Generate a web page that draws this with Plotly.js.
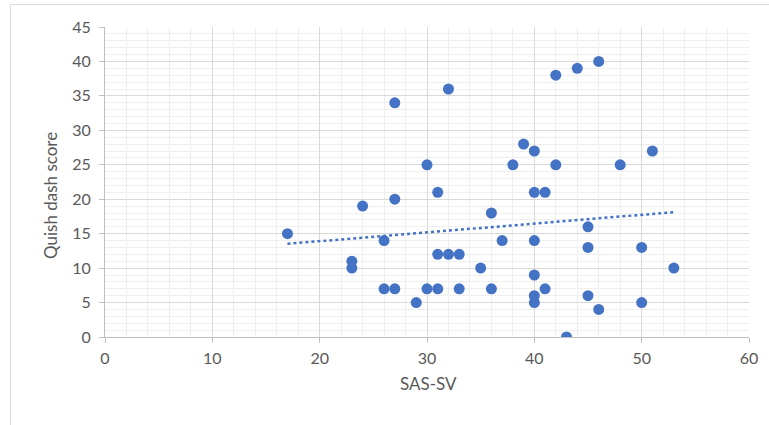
<!DOCTYPE html>
<html>
<head>
<meta charset="utf-8">
<script src="https://cdn.plot.ly/plotly-3.0.1.min.js"></script>
<style>html,body{margin:0;padding:0;background:#fff;}#chart{width:769px;height:425px;}</style>
</head>
<body>
<div id="chart"></div>
<script>
const sasSV = [17,23,23,24,26,26,27,27,27,29,30,30,31,31,31,32,32,33,33,35,36,36,37,38,39,40,40,40,40,40,40,41,41,42,42,43,44,45,45,45,46,46,48,50,50,51,53];
const quish = [15,11,10,19,14,7,34,20,7,5,25,7,21,12,7,36,12,12,7,10,18,7,14,25,28,27,21,14,9,6,5,21,7,38,25,0,39,16,13,6,40,4,25,13,5,27,10];
const xTicks = [0,10,20,30,40,50,60];
const yTicks = [0,5,10,15,20,25,30,35,40,45];
const xTitle = 'SAS-SV';
const yTitle = 'Quish dash score';

// least-squares trendline (as Excel's linear trendline)
const n = sasSV.length;
const mx = sasSV.reduce((a,b)=>a+b,0)/n;
const my = quish.reduce((a,b)=>a+b,0)/n;
let sxy=0, sxx=0;
for (let i=0;i<n;i++){ sxy += (sasSV[i]-mx)*(quish[i]-my); sxx += (sasSV[i]-mx)**2; }
const slope = sxy/sxx, icpt = my - slope*mx;
const xMin = Math.min(...sasSV), xMax = Math.max(...sasSV);
const trendX = [xMin, xMax];
const trendY = trendX.map(x => icpt + slope*x);

const blue = '#4472C4';
const grey = '#595959';
const font = 'Lato, "Open Sans", sans-serif';
const traces = [
  {x: trendX, y: trendY, mode: 'lines', line: {color: blue, width: 2.5, dash: 'dot'}, hoverinfo: 'skip'},
  {x: sasSV, y: quish, mode: 'markers', marker: {color: blue, size: 11}}
];
const layout = {
  width: 769, height: 425,
  margin: {l: 105, r: 20, t: 27, b: 88},
  paper_bgcolor: '#fff', plot_bgcolor: '#fff',
  showlegend: false,
  font: {family: font, color: grey, size: 16},
  xaxis: {
    range: [0, 60], tickvals: xTicks, ticktext: xTicks.map(String),
    showgrid: true, gridcolor: '#d9d9d9', gridwidth: 1,
    minor: {dtick: 2, showgrid: true, gridcolor: '#efefef', gridwidth: 1},
    showline: true, linecolor: '#bfbfbf', linewidth: 1,
    ticks: 'outside', ticklen: 5, tickcolor: '#bfbfbf',
    ticklabelstandoff: 2,
    zeroline: false,
    tickfont: {size: 16, color: grey}
  },
  yaxis: {
    range: [0, 45], tickvals: yTicks, ticktext: yTicks.map(String),
    showgrid: true, gridcolor: '#d9d9d9', gridwidth: 1,
    minor: {dtick: 1, showgrid: true, gridcolor: '#efefef', gridwidth: 1},
    showline: true, linecolor: '#bfbfbf', linewidth: 1,
    ticks: 'outside', ticklen: 5, tickcolor: '#bfbfbf',
    ticklabelstandoff: 5,
    zeroline: false,
    tickfont: {size: 16, color: grey}
  },
  annotations: [
    {text: xTitle, xref: 'paper', yref: 'paper', x: (428-105)/644, y: -(383-337)/310, xanchor: 'center', yanchor: 'middle', showarrow: false, font: {size: 17, color: grey}},
    {text: yTitle, xref: 'paper', yref: 'paper', x: (50-105)/644, y: (337-196)/310, xanchor: 'center', yanchor: 'middle', textangle: -90, showarrow: false, font: {size: 17, color: grey}}
  ],
  shapes: [
    {type: 'line', xref: 'paper', yref: 'paper', x0: -0.147, x1: -0.147, y0: 1.0726, y1: -0.29, line: {color: '#d9d9d9', width: 1}},
    {type: 'line', xref: 'paper', yref: 'paper', x0: -0.147, x1: 1.035, y0: 1.0726, y1: 1.0726, line: {color: '#d9d9d9', width: 1}}
  ]
};
Plotly.newPlot('chart', traces, layout, {displayModeBar: false, staticPlot: true});
</script>
</body>
</html>
